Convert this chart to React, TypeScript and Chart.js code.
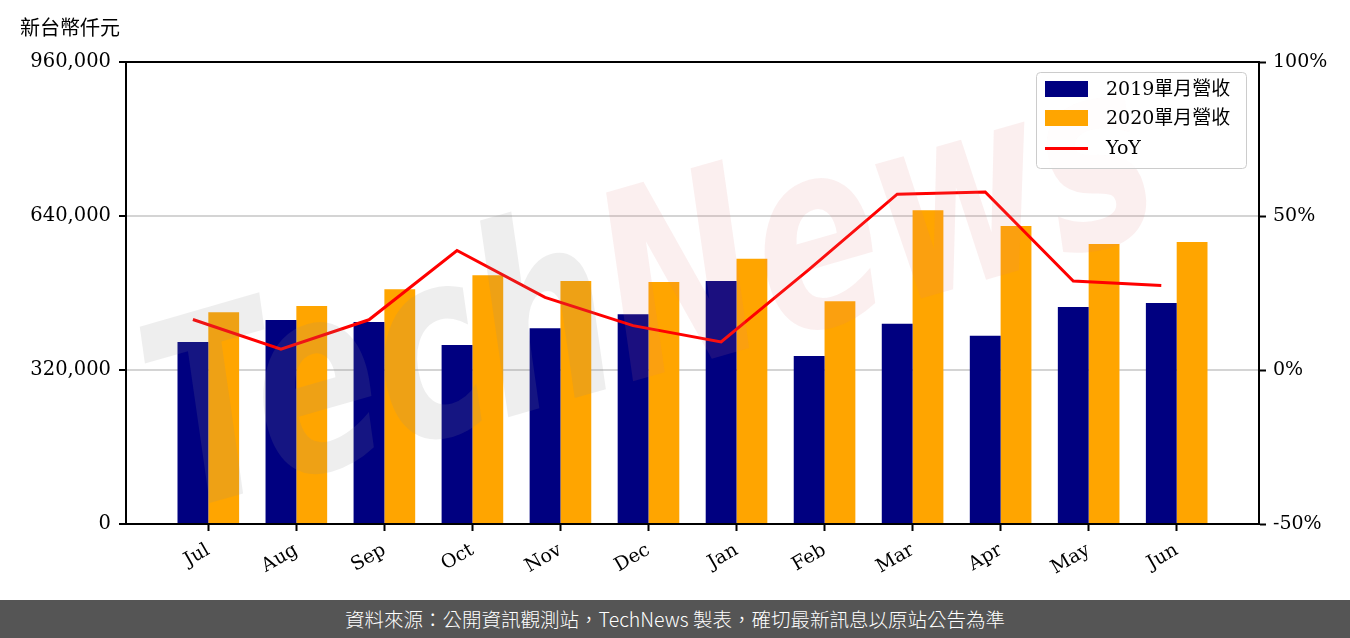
import React, { useEffect, useRef } from 'react';
import { Chart, registerables } from 'chart.js';

Chart.register(...registerables);

// ---- data ----
const months = ['Jul', 'Aug', 'Sep', 'Oct', 'Nov', 'Dec', 'Jan', 'Feb', 'Mar', 'Apr', 'May', 'Jun'];
const rev2019 = [378000, 424000, 420000, 372000, 407000, 436000, 505000, 349000, 416000, 391000, 451000, 459000];
const rev2020 = [440000, 453000, 488000, 517000, 505000, 503000, 551000, 463000, 652000, 619000, 582000, 586000];
const yoyPct = [16.4, 6.8, 16.3, 38.8, 23.6, 14.4, 9.1, 32.7, 57.1, 57.8, 28.9, 27.4];
const leftTicks = [0, 320000, 640000, 960000];
const rightTicks = [-50, 0, 50, 100];
const label2019 = '2019單月營收';
const label2020 = '2020單月營收';
const labelYoY = 'YoY';
const unitLabel = '新台幣仟元';
const footerText = '資料來源：公開資訊觀測站，TechNews 製表，確切最新訊息以原站公告為準';
const watermarkA = 'Tech';
const watermarkB = 'News';

const SERIF = '"DejaVu Serif", "Noto Sans CJK TC", serif';
const CJK = '"Noto Sans CJK TC", "Noto Sans", sans-serif';
const HALF_BAR = 0.175;

const decorPlugin = {
  id: 'decor',
  afterDatasetsDraw(chart: any) {
    const { ctx, chartArea } = chart;
    const ca = chartArea;
    // watermark
    ctx.save();
    ctx.beginPath();
    ctx.rect(ca.left, ca.top, ca.right - ca.left, ca.bottom - ca.top);
    ctx.clip();
    ctx.translate(655, 305);
    ctx.rotate(-0.28);
    ctx.scale(1, 1.4);
    ctx.font = 'italic bold 185px "DejaVu Sans"';
    ctx.textBaseline = 'middle';
    const wa = ctx.measureText(watermarkA).width;
    const wb = ctx.measureText(watermarkB).width;
    const start = -(wa + wb) / 2;
    ctx.fillStyle = 'rgba(140,140,140,0.15)';
    ctx.fillText(watermarkA, start, 0);
    ctx.fillStyle = 'rgba(225,120,120,0.12)';
    ctx.fillText(watermarkB, start + wa, 0);
    ctx.restore();

    // frame
    ctx.save();
    ctx.strokeStyle = '#000';
    ctx.lineWidth = 2;
    ctx.strokeRect(ca.left, ca.top, ca.right - ca.left, ca.bottom - ca.top);
    ctx.restore();

    // legend
    const ds = chart.data.datasets;
    const lw = 210;
    const lx = ca.right - 12.5 - lw;
    const ly = ca.top + 10.5;
    const lh = 96;
    ctx.save();
    ctx.beginPath();
    (ctx as any).roundRect(lx, ly, lw, lh, 4);
    ctx.fillStyle = 'rgba(255,255,255,0.85)';
    ctx.fill();
    ctx.strokeStyle = '#cccccc';
    ctx.lineWidth = 1;
    ctx.stroke();
    const rows = [ly + 16.5, ly + 45.5, ly + 76];
    ds.forEach((d: any, i: number) => {
      const cy = rows[i];
      if (d.type === 'line') {
        ctx.strokeStyle = d.borderColor;
        ctx.lineWidth = 3;
        ctx.beginPath();
        ctx.moveTo(lx + 8.5, cy);
        ctx.lineTo(lx + 51.5, cy);
        ctx.stroke();
      } else {
        ctx.fillStyle = d.backgroundColor;
        ctx.fillRect(lx + 8.5, cy - 8, 43, 16);
      }
      ctx.fillStyle = '#000';
      ctx.font = '19px ' + SERIF;
      ctx.textBaseline = 'middle';
      ctx.textAlign = 'left';
      ctx.fillText(d.label, lx + 69.5, cy + 1);
    });
    ctx.restore();

    // unit label
    ctx.save();
    ctx.fillStyle = '#000';
    ctx.font = '20px ' + CJK;
    ctx.textBaseline = 'middle';
    ctx.textAlign = 'left';
    ctx.fillText(unitLabel, 20, 27);
    ctx.restore();
  },
};

export default function App() {
  const ref = useRef<HTMLCanvasElement | null>(null);

  useEffect(() => {
    document.body.style.margin = '0';
    const canvas = ref.current;
    if (!canvas) return;
    const chart = new Chart(canvas, {
      type: 'bar',
      data: {
        datasets: [
          {
            type: 'bar',
            label: label2019,
            data: months.map((_, i) => ({ x: i, y: rev2019[i] })),
            backgroundColor: '#000080',
            yAxisID: 'y',
            categoryPercentage: 0.7,
            barPercentage: 1.0,
            order: 1,
          } as any,
          {
            type: 'bar',
            label: label2020,
            data: months.map((_, i) => ({ x: i, y: rev2020[i] })),
            backgroundColor: '#FFA500',
            yAxisID: 'y',
            categoryPercentage: 0.7,
            barPercentage: 1.0,
            order: 1,
          } as any,
          {
            type: 'line',
            label: labelYoY,
            data: months.map((_, i) => ({ x: i - HALF_BAR, y: yoyPct[i] })),
            borderColor: '#FF0000',
            backgroundColor: '#FF0000',
            borderWidth: 3,
            pointRadius: 0,
            tension: 0,
            yAxisID: 'y1',
            order: 0,
          } as any,
        ],
      },
      options: {
        responsive: false,
        animation: false,
        devicePixelRatio: 1,
        layout: { padding: { top: 62, left: 0, right: 0, bottom: 0 } },
        plugins: {
          legend: { display: false },
          tooltip: { enabled: false },
          title: { display: false },
        },
        scales: {
          x: {
            type: 'linear',
            min: -0.935,
            max: 11.935,
            bounds: 'data',
            offset: false,
            afterBuildTicks: (s: any) => {
              s.ticks = months.map((_, i) => ({ value: i }));
            },
            afterFit: (s: any) => {
              s.height = 76;
            },
            ticks: {
              autoSkip: false,
              minRotation: 30,
              maxRotation: 30,
              padding: 8,
              color: '#000',
              font: { family: SERIF, size: 19 },
              callback: (v: any) => months[Math.round(Number(v))] ?? '',
            },
            grid: {
              offset: false,
              drawOnChartArea: false,
              drawTicks: true,
              tickLength: 7,
              tickColor: '#000',
              tickWidth: 2,
            },
            border: { display: true, color: '#000', width: 2 },
          } as any,
          y: {
            type: 'linear',
            position: 'left',
            min: 0,
            max: 960000,
            afterBuildTicks: (s: any) => {
              s.ticks = leftTicks.map((v) => ({ value: v }));
            },
            afterFit: (s: any) => {
              s.width = 126;
            },
            ticks: {
              padding: 8,
              color: '#000',
              font: { family: SERIF, size: 19.5 },
              callback: (v: any) => Number(v).toLocaleString('en-US'),
            },
            grid: {
              color: '#d4d4d4',
              lineWidth: 2,
              tickLength: 7,
              tickColor: '#000',
              tickWidth: 2,
            },
            border: { display: true, color: '#000', width: 2 },
          } as any,
          y1: {
            type: 'linear',
            position: 'right',
            min: -50,
            max: 100,
            afterBuildTicks: (s: any) => {
              s.ticks = rightTicks.map((v) => ({ value: v }));
            },
            afterFit: (s: any) => {
              s.width = 91;
            },
            ticks: {
              padding: 7,
              color: '#000',
              font: { family: SERIF, size: 19 },
              callback: (v: any) => `${v}%`,
            },
            grid: {
              drawOnChartArea: false,
              tickLength: 7,
              tickColor: '#000',
              tickWidth: 2,
            },
            border: { display: true, color: '#000', width: 2 },
          } as any,
        },
      },
      plugins: [decorPlugin],
    });
    return () => chart.destroy();
  }, []);

  return (
    <div style={{ width: 1350, height: 638, background: '#fff', position: 'relative' }}>
      <canvas ref={ref} width={1350} height={600} style={{ display: 'block', width: 1350, height: 600 }} />
      <div
        lang="zh-Hant-TW"
        style={{
          height: 38,
          background: '#555555',
          color: '#fff',
          fontFamily: CJK,
          fontSize: 19.5,
          fontWeight: 300,
          lineHeight: '38px',
          textAlign: 'center',
          whiteSpace: 'nowrap',
        }}
      >
        {footerText}
      </div>
    </div>
  );
}
